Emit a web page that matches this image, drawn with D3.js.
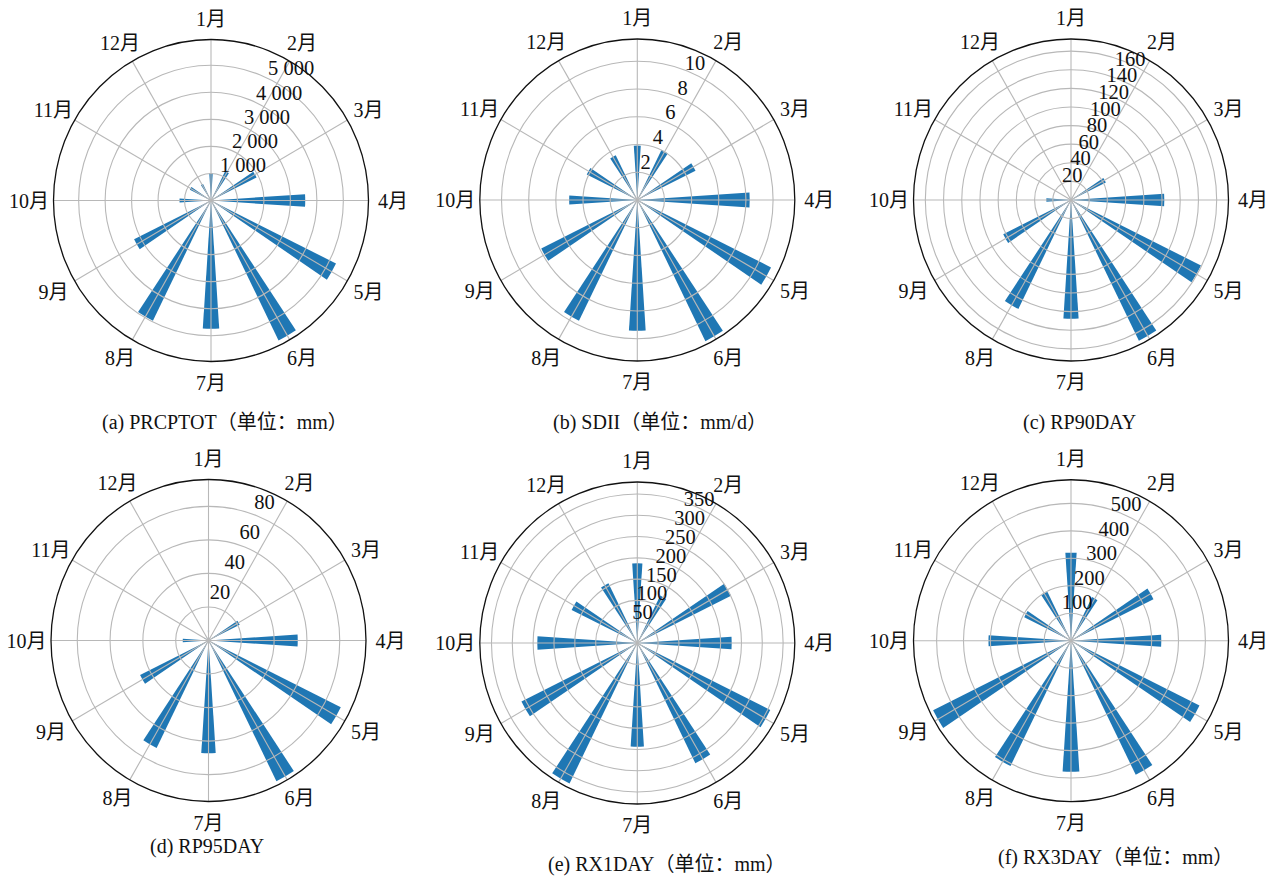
<!DOCTYPE html>
<html>
<head>
<meta charset="utf-8">
<script src="https://cdn.jsdelivr.net/npm/d3@7"></script>
<style>
  body { margin: 0; background: #fff; }
  svg { display: block; }
  text { font-family: "Liberation Serif", "Noto Sans CJK SC", serif; fill: #111; }
</style>
</head>
<body>
<svg id="chart" width="1280" height="876"></svg>
<script>
// month categories (1月 at top, clockwise)
var months = ['1月', '2月', '3月', '4月', '5月', '6月', '7月', '8月', '9月', '10月', '11月', '12月'];

// monthly values
var prcptot = [1010, 1215, 1920, 3560, 5265, 5770, 4740, 4960, 3240, 1190, 890, 680];
var sdii    = [3.92, 4.04, 4.78, 8.28, 10.98, 11.34, 9.42, 9.71, 7.89, 5.02, 4.15, 3.59];
var rp90    = [3, 4, 42.7, 102.5, 159.2, 168.6, 127.5, 130.7, 83, 27.1, 2, 1];
var rp95    = [6, 2, 21.2, 54.4, 89.9, 93.6, 67.3, 71.5, 46.5, 15.7, 3, 2];
var rx1day  = [187, 124.6, 250.8, 226.6, 355.7, 315, 243.6, 367.7, 310, 240, 175.7, 156.5];
var rx3day  = [320.6, 177, 342, 336, 533, 544.5, 477, 509, 572, 307, 194, 199];

// radial ticks and axis limits
var ticksA = [1000, 2000, 3000, 4000, 5000];
var ticksB = [2, 4, 6, 8, 10];
var ticksC = [20, 40, 60, 80, 100, 120, 140, 160];
var ticksD = [20, 40, 60, 80];
var ticksE = [50, 100, 150, 200, 250, 300, 350];
var ticksF = [100, 200, 300, 400, 500];
var rmaxes = [5950, 11.6, 173, 96, 378, 586];

var captions = ['(a) PRCPTOT（单位：mm）', '(b) SDII（单位：mm/d）', '(c) RP90DAY',
                '(d) RP95DAY', '(e) RX1DAY（单位：mm）', '(f) RX3DAY（单位：mm）'];

var R = 157.5;          // plot radius
var stretch = 1.022;    // slight vertical stretch of the source image
var bar_width = Math.PI / 24;
var label_angle = 27 * Math.PI / 180;

var spaced = d3.formatLocale({decimal: '.', thousands: ' ', grouping: [3], currency: ['', '']}).format(',');

// layout of each panel: center, caption spot, offset of radial labels
var panels = [
  {values: prcptot, ticks: ticksA, fmt: spaced, cx: 211, cy: 200.5, capx: 102, capy: 429, ldx: 20, ldy: -11.5},
  {values: sdii, ticks: ticksB, fmt: String, cx: 637.3, cy: 200, capx: 553, capy: 429, ldx: -4, ldy: -13.5},
  {values: rp90, ticks: ticksC, fmt: String, cx: 1071, cy: 200, capx: 1023, capy: 429, ldx: -7, ldy: -8.5},
  {values: rp95, ticks: ticksD, fmt: String, cx: 208.5, cy: 640.5, capx: 150, capy: 853, ldx: -3.5, ldy: -19},
  {values: rx1day, ticks: ticksE, fmt: String, cx: 637.3, cy: 643, capx: 548, capy: 871, ldx: -4.3, ldy: -11.6},
  {values: rx3day, ticks: ticksF, fmt: String, cx: 1071, cy: 640.7, capx: 998, capy: 864, ldx: -6, ldy: -14}
];

var angle = d3.scalePoint().domain(months).range([0, 2 * Math.PI * 11 / 12]);

var draw_panel = function(svg, p, i) {
	var g = svg.append('g')
	    .attr('transform', 'translate(' + p.cx + ',' + p.cy + ')');
	var plot = g.append('g')
	    .attr('transform', 'scale(1,' + stretch + ')');

	var r = d3.scaleLinear().domain([0, rmaxes[i]]).range([0, R]);

	// bars
	var arc = d3.arc()
	    .innerRadius(0)
	    .outerRadius(function(d) { return r(d.v); })
	    .startAngle(function(d) { return angle(d.m) - bar_width / 2; })
	    .endAngle(function(d) { return angle(d.m) + bar_width / 2; });

	plot.selectAll('path.bar')
	    .data(months.map(function(m, j) { return {m: m, v: p.values[j]}; }))
	    .enter()
	    .append('path')
	    .attr('class', 'bar')
	    .attr('d', arc)
	    .attr('fill', '#1f77b4');

	// grid rings and spokes on top of the bars
	plot.selectAll('circle.ring')
	    .data(p.ticks)
	    .enter()
	    .append('circle')
	    .attr('class', 'ring')
	    .attr('r', function(d) { return r(d); })
	    .attr('fill', 'none')
	    .attr('stroke', '#b8b8b8')
	    .attr('stroke-width', 1.1);

	plot.selectAll('line.spoke')
	    .data(months)
	    .enter()
	    .append('line')
	    .attr('class', 'spoke')
	    .attr('x1', 0)
	    .attr('y1', 0)
	    .attr('x2', function(d) { return Math.sin(angle(d)) * R; })
	    .attr('y2', function(d) { return -Math.cos(angle(d)) * R; })
	    .attr('stroke', '#b8b8b8')
	    .attr('stroke-width', 1.1);

	plot.append('circle')
	    .attr('r', R)
	    .attr('fill', 'none')
	    .attr('stroke', '#111')
	    .attr('stroke-width', 1.3);

	// radial tick labels
	g.selectAll('text.rlabel')
	    .data(p.ticks)
	    .enter()
	    .append('text')
	    .attr('class', 'rlabel')
	    .attr('x', function(d) { return Math.sin(label_angle) * r(d) + p.ldx; })
	    .attr('y', function(d) { return -Math.cos(label_angle) * r(d) * stretch + p.ldy; })
	    .attr('text-anchor', 'middle')
	    .attr('dominant-baseline', 'central')
	    .style('font-size', '20.5px')
	    .text(function(d) { return p.fmt(d); });

	// month labels
	g.selectAll('text.month')
	    .data(months)
	    .enter()
	    .append('text')
	    .attr('class', 'month')
	    .attr('x', function(d) { return Math.sin(angle(d)) * 182; })
	    .attr('y', function(d) { return -Math.cos(angle(d)) * 182; })
	    .attr('text-anchor', 'middle')
	    .attr('dominant-baseline', 'central')
	    .style('font-size', '20px')
	    .text(function(d) { return d; });

	svg.append('text')
	    .attr('x', p.capx)
	    .attr('y', p.capy)
	    .style('font-size', '20px')
	    .text(captions[i]);
}

var svg = d3.select('#chart');
panels.forEach(function(p, i) { draw_panel(svg, p, i); });
</script>
</body>
</html>
